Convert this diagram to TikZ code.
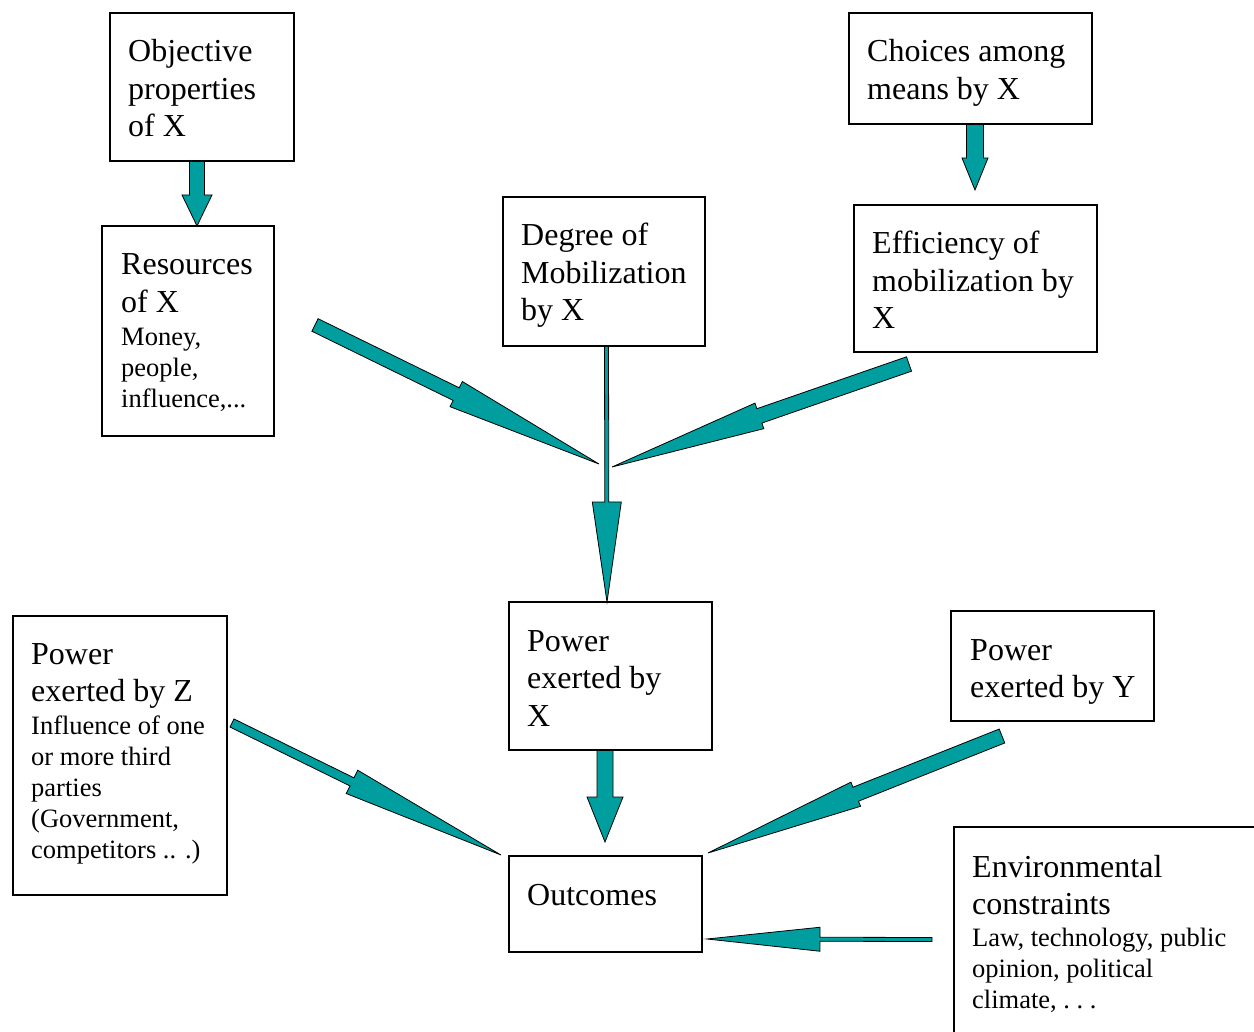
\documentclass[tikz,border=0pt]{standalone}
\usepackage{fontspec}
\setmainfont{Liberation Serif}
\usetikzlibrary{calc}
\definecolor{tealA}{RGB}{0,158,158}
\newcommand\bigtxt{\fontsize{32}{37.5}\selectfont}
\newcommand\smtxt{\fontsize{26.5}{31}\selectfont}
% #1 tail, #2 tip, #3 shaft half width, #4 head half width, #5 head length
\newcommand\blockarr[5]{%
  \coordinate (hb) at ($(#2)!#5!(#1)$);
  \filldraw[arrowfill] ($(#1)!#3!90:(#2)$) -- ($(hb)!#3!90:(#2)$) -- ($(hb)!#4!90:(#2)$) -- (#2)
    -- ($(hb)!#4!-90:(#2)$) -- ($(hb)!#3!-90:(#2)$) -- ($(#1)!#3!-90:(#2)$) -- cycle;}
\begin{document}
\begin{tikzpicture}[x=1pt,y=-1pt,
  box/.style={draw, line width=2.6pt, inner sep=0pt},
  txt/.style={anchor=base west, inner sep=0pt},
  arrowfill/.style={fill=tealA, draw=black, line width=0.8pt}]
\useasboundingbox (0,0) rectangle (1254,1032);
\clip (0,0) rectangle (1254,1032);
\fill[white] (0,0) rectangle (1254,1032);

% connector end points
\coordinate (a1s) at (197,161);   \coordinate (a1e) at (197,226);
\coordinate (a2s) at (975,124);   \coordinate (a2e) at (975,190);
\coordinate (a3s) at (605,750);   \coordinate (a3e) at (605,842);
\coordinate (a4s) at (606.5,346); \coordinate (a4e) at (607,602);
\coordinate (a5s) at (315,325);   \coordinate (a5e) at (599,464);
\coordinate (a6s) at (909,364);   \coordinate (a6e) at (612,467);
\coordinate (a7s) at (232,723);   \coordinate (a7e) at (501,855);
\coordinate (a8s) at (1002,736);  \coordinate (a8e) at (708,853);
\coordinate (a9s) at (932,939.5); \coordinate (a9e) at (707,939);

% arrows
\blockarr{a1s}{a1e}{7.5pt}{15pt}{31pt}
\blockarr{a2s}{a2e}{8.5pt}{13pt}{32pt}
\blockarr{a3s}{a3e}{8pt}{18pt}{45pt}
\blockarr{a4s}{a4e}{2pt}{14.5pt}{100pt}
\blockarr{a5s}{a5e}{7pt}{14pt}{159pt}
\blockarr{a6s}{a6e}{7.6pt}{13.5pt}{156pt}
\blockarr{a7s}{a7e}{4.5pt}{13pt}{166pt}
\blockarr{a8s}{a8e}{7.5pt}{13pt}{159pt}
\blockarr{a9s}{a9e}{2pt}{12pt}{113pt}

% boxes
\node[box, minimum width=184pt, minimum height=148pt] (obj) at (202,87) {};
\node[box, minimum width=172pt, minimum height=210pt] (res) at (188,331) {};
\node[box, minimum width=202pt, minimum height=149pt] (deg) at (604,271.5) {};
\node[box, minimum width=243pt, minimum height=111pt] (cho) at (970.5,68.5) {};
\node[box, minimum width=243pt, minimum height=147pt] (eff) at (975.5,278.5) {};
\node[box, minimum width=203pt, minimum height=148pt] (px) at (610.5,676) {};
\node[box, minimum width=203pt, minimum height=110pt] (py) at (1052.5,666) {};
\node[box, minimum width=214pt, minimum height=279pt] (pz) at (120,755.5) {};
\node[box, minimum width=193pt, minimum height=96pt] (out) at (605.5,904) {};
\node[box, minimum width=346pt, minimum height=233pt] (env) at (1127,943.5) {};

% texts
\node[txt] (objt) at (128,62) {\parbox[t]{300pt}{\raggedright\bigtxt Objective\\properties\\of X}};
\node[txt] (rest) at (121,275) {\parbox[t]{300pt}{\raggedright{\bigtxt Resources\\of X\par}\vspace{2pt}{\smtxt Money,\\people,\\influence,...\par}}};
\node[txt] (degt) at (521,246) {\parbox[t]{300pt}{\raggedright\bigtxt Degree of\\Mobilization\\by X}};
\node[txt] (chot) at (867,62) {\parbox[t]{300pt}{\raggedright\bigtxt Choices among\\means by X}};
\node[txt] (efft) at (872,254) {\parbox[t]{300pt}{\raggedright\bigtxt Efficiency of\\mobilization by\\X}};
\node[txt] (pxt) at (527,651) {\parbox[t]{300pt}{\raggedright\bigtxt Power\\exerted by\\X}};
\node[txt] (pyt) at (970,660) {\parbox[t]{300pt}{\raggedright\bigtxt Power\\exerted by Y}};
\node[txt] (pzt) at (31,664) {\parbox[t]{300pt}{\raggedright{\bigtxt Power\\exerted by Z\par}\vspace{2pt}{\smtxt Influence of one\\or more third\\parties\\(Government,\\competitors .. .)\par}}};
\node[txt] (outt) at (527,905) {\bigtxt Outcomes};
\node[txt] (envt) at (972,877) {\parbox[t]{400pt}{\raggedright{\bigtxt Environmental\\constraints\par}\vspace{1pt}{\smtxt Law, technology, public\\opinion, political\\climate, .\ .\ .\par}}};
\end{tikzpicture}
\end{document}
